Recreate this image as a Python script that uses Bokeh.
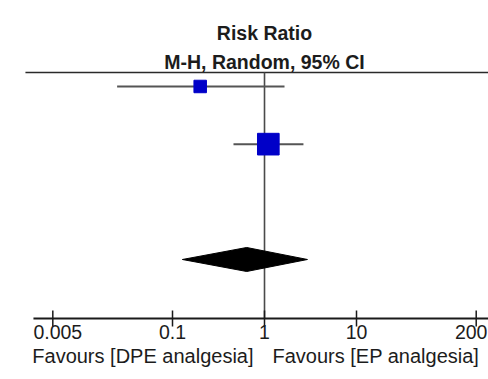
import math
from bokeh.plotting import figure
from bokeh.models import Range1d, ColumnDataSource
from bokeh.embed import file_html
from bokeh.resources import INLINE
from bokeh.core.properties import value

# ---- data ----
study_rows = [1, 2]
study_rr = [0.20, 1.10]
study_low = [0.025, 0.46]
study_high = [1.65, 2.65]
study_weight = [25.0, 75.0]

pooled_row = 4
pooled_rr = 0.64
pooled_low = 0.128
pooled_high = 2.93

tick_values = [0.005, 0.1, 1, 10, 200]
tick_labels = ["0.005", "0.1", "1", "10", "200"]
title_lines = ["Risk Ratio", "M-H, Random, 95% CI"]
favours_labels = ["Favours [DPE analgesia]", "Favours [EP analgesia]"]

# ---- layout / style ----
FONT = "Liberation Sans"
TXT = "#1c1c1c"
X_LO, X_HI = 0.00135, 272.1
Y_TOP, Y_BOT = -0.491, 6.081
TOP_LINE_ROW = 0.757
AXIS_ROW = 5.023
AXIS_START = 0.00308
TICK_UP, TICK_DOWN = 0.139, 0.139
DIAMOND_HALF = 0.208
TITLE_ROWS = [0.072, 0.575]
TICK_LABEL_ROW = 5.262
TICK_LABEL_SHIFT = [5, 0, 0, 0, -5]   # keep end labels inside the axis span
FAVOURS_ROW = 5.680

p = figure(width=488, height=379, x_axis_type="log",
           x_range=Range1d(X_LO, X_HI), y_range=Range1d(Y_BOT, Y_TOP),
           x_axis_location=None, y_axis_location=None,
           toolbar_location=None, output_backend="svg",
           min_border=0)
p.grid.visible = False
p.outline_line_color = None
p.background_fill_color = "white"
p.border_fill_color = "white"

# header line and null line
p.segment(x0=[0.00252], x1=[X_HI * 2], y0=[TOP_LINE_ROW], y1=[TOP_LINE_ROW],
          line_color="#2a2a2a", line_width=1.6)
p.segment(x0=[1], x1=[1], y0=[TOP_LINE_ROW], y1=[AXIS_ROW],
          line_color="#4a4a4a", line_width=1.6)

# confidence intervals and study squares
src = ColumnDataSource(dict(row=study_rows, rr=study_rr, lo=study_low, hi=study_high,
                            size=[2.5 * math.sqrt(w) for w in study_weight]))
p.segment(x0="lo", x1="hi", y0="row", y1="row", source=src,
          line_color="#555555", line_width=2)
p.scatter(x="rr", y="row", size="size", marker="square", source=src,
          fill_color="#0000c8", line_color="#0000c8")

# pooled diamond
p.patch(x=[pooled_low, pooled_rr, pooled_high, pooled_rr],
        y=[pooled_row, pooled_row - DIAMOND_HALF, pooled_row, pooled_row + DIAMOND_HALF],
        fill_color="black", line_color="black")

# header texts
p.text(x=[1, 1], y=TITLE_ROWS, text=title_lines,
       text_font=value(FONT), text_font_style="bold", text_font_size="19.5px",
       text_align="center", text_baseline="middle", text_color=TXT)

# x axis (log scale): line, ticks, labels
p.segment(x0=[AXIS_START], x1=[X_HI * 2], y0=[AXIS_ROW], y1=[AXIS_ROW],
          line_color="#1a1a1a", line_width=2)
p.segment(x0=tick_values, x1=tick_values,
          y0=[AXIS_ROW - TICK_UP] * len(tick_values),
          y1=[AXIS_ROW + TICK_DOWN] * len(tick_values),
          line_color="#1a1a1a", line_width=1.5)
ticks = ColumnDataSource(dict(x=tick_values, y=[TICK_LABEL_ROW] * len(tick_values),
                              text=tick_labels, off=TICK_LABEL_SHIFT))
p.text(x="x", y="y", text="text", x_offset="off", source=ticks,
       text_font=value(FONT), text_font_size="19.5px",
       text_align="center", text_baseline="middle", text_color=TXT)

# favours labels either side of the null line
fav = ColumnDataSource(dict(x=[1, 1], y=[FAVOURS_ROW, FAVOURS_ROW], text=favours_labels,
                            align=["right", "left"], off=[-11, 8]))
p.text(x="x", y="y", text="text", source=fav, text_align="align", x_offset="off",
       text_font=value(FONT), text_font_size="20px",
       text_baseline="middle", text_color=TXT)

open("out.html", "w").write(file_html(p, INLINE))
